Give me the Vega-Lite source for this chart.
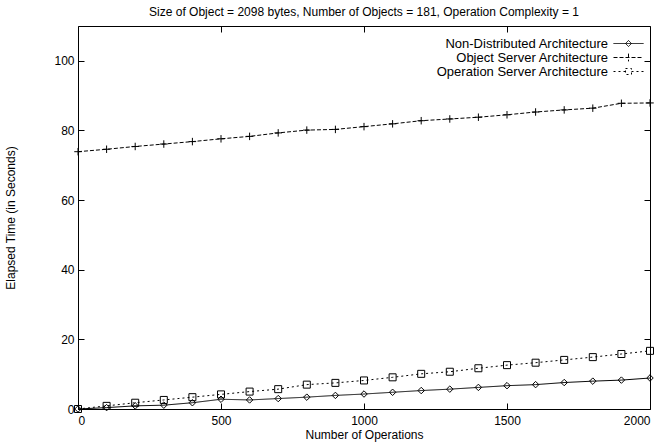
{
  "$schema": "https://vega.github.io/schema/vega-lite/v6.json",
  "width": 572,
  "height": 383,
  "autosize": {"type": "none"},
  "padding": {"left": 78, "top": 26, "right": 16, "bottom": 34},
  "background": "white",
  "config": {
    "font": "Liberation Sans",
    "view": {"stroke": "black", "strokeWidth": 1},
    "axis": {"grid": false, "labelFont": "Liberation Sans", "titleFont": "Liberation Sans", "labelColor": "black", "titleColor": "black", "tickColor": "black", "domain": false, "labelFontSize": 12, "titleFontSize": 12, "titleFontWeight": "normal"}
  },
  "title": {"text": "Size of Object = 2098 bytes, Number of Objects = 181, Operation Complexity = 1", "fontSize": 12, "fontWeight": "normal", "font": "Liberation Sans", "color": "black", "offset": 7},
  "data": {"values": [
    {"ops": 0, "series": "Non-Distributed Architecture", "time": 0},
    {"ops": 100, "series": "Non-Distributed Architecture", "time": 0.4},
    {"ops": 200, "series": "Non-Distributed Architecture", "time": 0.9},
    {"ops": 300, "series": "Non-Distributed Architecture", "time": 1.1},
    {"ops": 400, "series": "Non-Distributed Architecture", "time": 1.8},
    {"ops": 500, "series": "Non-Distributed Architecture", "time": 2.8},
    {"ops": 600, "series": "Non-Distributed Architecture", "time": 2.6},
    {"ops": 700, "series": "Non-Distributed Architecture", "time": 3.0},
    {"ops": 800, "series": "Non-Distributed Architecture", "time": 3.4},
    {"ops": 900, "series": "Non-Distributed Architecture", "time": 3.9},
    {"ops": 1000, "series": "Non-Distributed Architecture", "time": 4.3},
    {"ops": 1100, "series": "Non-Distributed Architecture", "time": 4.8},
    {"ops": 1200, "series": "Non-Distributed Architecture", "time": 5.3},
    {"ops": 1300, "series": "Non-Distributed Architecture", "time": 5.7},
    {"ops": 1400, "series": "Non-Distributed Architecture", "time": 6.2},
    {"ops": 1500, "series": "Non-Distributed Architecture", "time": 6.7},
    {"ops": 1600, "series": "Non-Distributed Architecture", "time": 7.0},
    {"ops": 1700, "series": "Non-Distributed Architecture", "time": 7.6},
    {"ops": 1800, "series": "Non-Distributed Architecture", "time": 8.0},
    {"ops": 1900, "series": "Non-Distributed Architecture", "time": 8.3},
    {"ops": 2000, "series": "Non-Distributed Architecture", "time": 8.9},
    {"ops": 0, "series": "Object Server Architecture", "time": 73.9},
    {"ops": 100, "series": "Object Server Architecture", "time": 74.6},
    {"ops": 200, "series": "Object Server Architecture", "time": 75.4},
    {"ops": 300, "series": "Object Server Architecture", "time": 76.1},
    {"ops": 400, "series": "Object Server Architecture", "time": 76.8},
    {"ops": 500, "series": "Object Server Architecture", "time": 77.6},
    {"ops": 600, "series": "Object Server Architecture", "time": 78.3},
    {"ops": 700, "series": "Object Server Architecture", "time": 79.3},
    {"ops": 800, "series": "Object Server Architecture", "time": 80.1},
    {"ops": 900, "series": "Object Server Architecture", "time": 80.3},
    {"ops": 1000, "series": "Object Server Architecture", "time": 81.1},
    {"ops": 1100, "series": "Object Server Architecture", "time": 81.9},
    {"ops": 1200, "series": "Object Server Architecture", "time": 82.8},
    {"ops": 1300, "series": "Object Server Architecture", "time": 83.3},
    {"ops": 1400, "series": "Object Server Architecture", "time": 83.8},
    {"ops": 1500, "series": "Object Server Architecture", "time": 84.5},
    {"ops": 1600, "series": "Object Server Architecture", "time": 85.3},
    {"ops": 1700, "series": "Object Server Architecture", "time": 85.9},
    {"ops": 1800, "series": "Object Server Architecture", "time": 86.4},
    {"ops": 1900, "series": "Object Server Architecture", "time": 87.8},
    {"ops": 2000, "series": "Object Server Architecture", "time": 87.9},
    {"ops": 0, "series": "Operation Server Architecture", "time": 0},
    {"ops": 100, "series": "Operation Server Architecture", "time": 0.9},
    {"ops": 200, "series": "Operation Server Architecture", "time": 1.8},
    {"ops": 300, "series": "Operation Server Architecture", "time": 2.6},
    {"ops": 400, "series": "Operation Server Architecture", "time": 3.4},
    {"ops": 500, "series": "Operation Server Architecture", "time": 4.2},
    {"ops": 600, "series": "Operation Server Architecture", "time": 5.0},
    {"ops": 700, "series": "Operation Server Architecture", "time": 5.7},
    {"ops": 800, "series": "Operation Server Architecture", "time": 7.0},
    {"ops": 900, "series": "Operation Server Architecture", "time": 7.5},
    {"ops": 1000, "series": "Operation Server Architecture", "time": 8.2},
    {"ops": 1100, "series": "Operation Server Architecture", "time": 9.1},
    {"ops": 1200, "series": "Operation Server Architecture", "time": 10.1},
    {"ops": 1300, "series": "Operation Server Architecture", "time": 10.7},
    {"ops": 1400, "series": "Operation Server Architecture", "time": 11.7},
    {"ops": 1500, "series": "Operation Server Architecture", "time": 12.6},
    {"ops": 1600, "series": "Operation Server Architecture", "time": 13.3},
    {"ops": 1700, "series": "Operation Server Architecture", "time": 14.1},
    {"ops": 1800, "series": "Operation Server Architecture", "time": 14.9},
    {"ops": 1900, "series": "Operation Server Architecture", "time": 15.8},
    {"ops": 2000, "series": "Operation Server Architecture", "time": 16.7}
  ]},
  "resolve": {"axis": {"x": "independent", "y": "independent"}},
  "layer": [
    {
      "mark": {"type": "line", "color": "black", "strokeWidth": 1},
      "encoding": {
        "x": {"field": "ops", "type": "quantitative", "scale": {"domain": [0, 2000], "nice": false},
              "axis": {"orient": "bottom", "values": [0, 500, 1000, 1500, 2000], "format": "d", "tickSize": -6, "labelPadding": 12, "title": "Number of Operations", "titlePadding": 3}},
        "y": {"field": "time", "type": "quantitative", "scale": {"domain": [0, 110], "nice": false},
              "axis": {"orient": "left", "values": [0, 20, 40, 60, 80, 100], "tickSize": -6, "labelPadding": 10, "title": "Elapsed Time (in Seconds)", "titlePadding": 36}},
        "strokeDash": {"field": "series", "type": "nominal",
          "scale": {"domain": ["Non-Distributed Architecture", "Object Server Architecture", "Operation Server Architecture"], "range": [[1, 0], [4, 2], [2, 3]]},
          "legend": {"title": null, "orient": "none", "legendX": 544, "legendY": 11, "padding": 0, "labelFontSize": 13, "labelFont": "Liberation Sans", "labelColor": "black", "labelAlign": "right", "labelOffset": -27, "labelLimit": 400, "symbolSize": 36, "symbolStrokeColor": "black", "symbolFillColor": "transparent", "symbolStrokeWidth": 1, "rowPadding": -10,
            "encode": {"symbols": {"update": {"shape": {"signal": "datum.value == 'Non-Distributed Architecture' ? 'M-5,0H5M0,-1L1,0L0,1L-1,0Z' : datum.value == 'Object Server Architecture' ? 'M-5,0H5M0,-1.3V1.3' : 'M-5,0H-1M1,0H5M-1,-1H1V1H-1Z'"}}}}}
        }
      }
    },
    {
      "transform": [{"filter": "datum.series == 'Non-Distributed Architecture'"}],
      "mark": {"type": "point", "filled": false, "color": "black", "strokeWidth": 1, "size": 42, "opacity": 1, "shape": "M0,-1L1,0L0,1L-1,0Z"},
      "encoding": {
        "x": {"field": "ops", "type": "quantitative", "axis": {"orient": "top", "values": [0, 500, 1000, 1500, 2000], "tickSize": -6, "labels": false, "title": null}},
        "y": {"field": "time", "type": "quantitative", "axis": {"orient": "right", "values": [0, 20, 40, 60, 80, 100], "tickSize": -6, "labels": false, "title": null}}
      }
    },
    {
      "transform": [{"filter": "datum.series == 'Object Server Architecture'"}],
      "mark": {"type": "point", "filled": false, "color": "black", "strokeWidth": 1, "size": 56, "opacity": 1, "shape": "M-1,0H1M0,-1V1"},
      "encoding": {
        "x": {"field": "ops", "type": "quantitative", "axis": null},
        "y": {"field": "time", "type": "quantitative", "axis": null}
      }
    },
    {
      "transform": [{"filter": "datum.series == 'Operation Server Architecture'"}],
      "mark": {"type": "point", "filled": false, "color": "black", "strokeWidth": 1, "size": 49, "opacity": 1, "shape": "M-1,-1H1V1H-1Z"},
      "encoding": {
        "x": {"field": "ops", "type": "quantitative", "axis": null},
        "y": {"field": "time", "type": "quantitative", "axis": null}
      }
    }
  ]
}
